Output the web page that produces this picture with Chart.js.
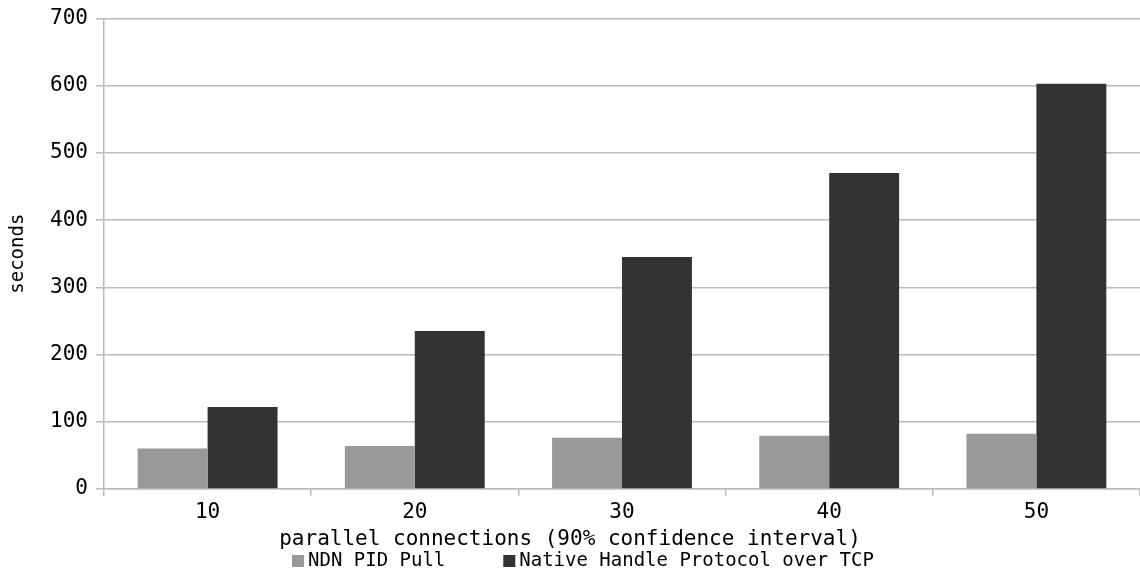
<!DOCTYPE html>
<html><head><meta charset="utf-8">
<script src="https://cdn.jsdelivr.net/npm/chart.js@4/dist/chart.umd.min.js"></script>
<style>html,body{margin:0;padding:0;background:#fff}#wrap{width:1140px;height:576px}</style>
</head><body><div id="wrap"><canvas id="c" width="1140" height="576"></canvas></div>
<script>
const categories = ['10','20','30','40','50'];
const ndnPidPull = [60, 64, 76, 79, 82];
const nativeHandle = [122, 235, 345, 470, 603];
const seriesNames = ['NDN PID Pull', 'Native Handle Protocol over TCP'];
const seriesColors = ['#999999', '#333333'];
const yTitle = 'seconds';
const xTitle = 'parallel connections (90% confidence interval)';
const FONT = '"DejaVu Sans Mono", monospace';
const FS = 21;
const LEG_FS = 19;

const bottomLegend = {
  id: 'bottomLegend',
  afterDraw(chart) {
    const ctx = chart.ctx;
    ctx.save();
    ctx.font = LEG_FS + 'px ' + FONT;
    ctx.textBaseline = 'middle';
    ctx.textAlign = 'left';
    const y = chart.height - 15;
    let x = 292;
    chart.data.datasets.forEach((ds, i) => {
      ctx.fillStyle = ds.backgroundColor;
      ctx.fillRect(x, y - 6, 12, 12);
      ctx.fillStyle = '#000';
      ctx.fillText(ds.label, x + 16, y);
      x += 16 + ctx.measureText(ds.label).width + 58;
    });
    ctx.restore();
  }
};

new Chart(document.getElementById('c'), {
  type: 'bar',
  data: {
    labels: categories,
    datasets: [
      { label: seriesNames[0], data: ndnPidPull, backgroundColor: seriesColors[0], borderWidth: 0 },
      { label: seriesNames[1], data: nativeHandle, backgroundColor: seriesColors[1], borderWidth: 0 }
    ]
  },
  plugins: [bottomLegend],
  options: {
    responsive: false,
    animation: false,
    layout: { padding: { top: 4, right: 0, left: 0, bottom: 26 } },
    datasets: { bar: { categoryPercentage: 0.675, barPercentage: 1.0 } },
    plugins: {
      legend: { display: false },
      title: {
        display: true, position: 'bottom', weight: 500, fullSize: true,
        text: xTitle, color: '#000',
        font: { family: FONT, size: FS, weight: 'normal', lineHeight: 1.0 },
        padding: { top: 0, bottom: 0 }
      },
      tooltip: { enabled: false }
    },
    scales: {
      x: {
        offset: true,
        grid: { display: true, drawOnChartArea: false, drawTicks: true, offset: true, tickLength: 7, color: '#bbbbbb', lineWidth: 1.5 },
        border: { display: true, color: '#bbbbbb', width: 1.5 },
        ticks: { font: { family: FONT, size: FS, lineHeight: 1.1 }, color: '#000', padding: 5 }
      },
      y: {
        min: 0, max: 700,
        ticks: { stepSize: 100, font: { family: FONT, size: FS, lineHeight: 1.0 }, color: '#000', padding: 8 },
        grid: { color: '#bbbbbb', lineWidth: 1.5, tickLength: 8 },
        border: { display: true, color: '#bbbbbb', width: 1.5 },
        title: { display: true, text: yTitle, font: { family: FONT, size: 19, lineHeight: 1.1 }, color: '#000', padding: { top: 8, bottom: 0 } },
        afterFit: function(s) { s.width = 104; }
      }
    }
  }
});
</script></body></html>
